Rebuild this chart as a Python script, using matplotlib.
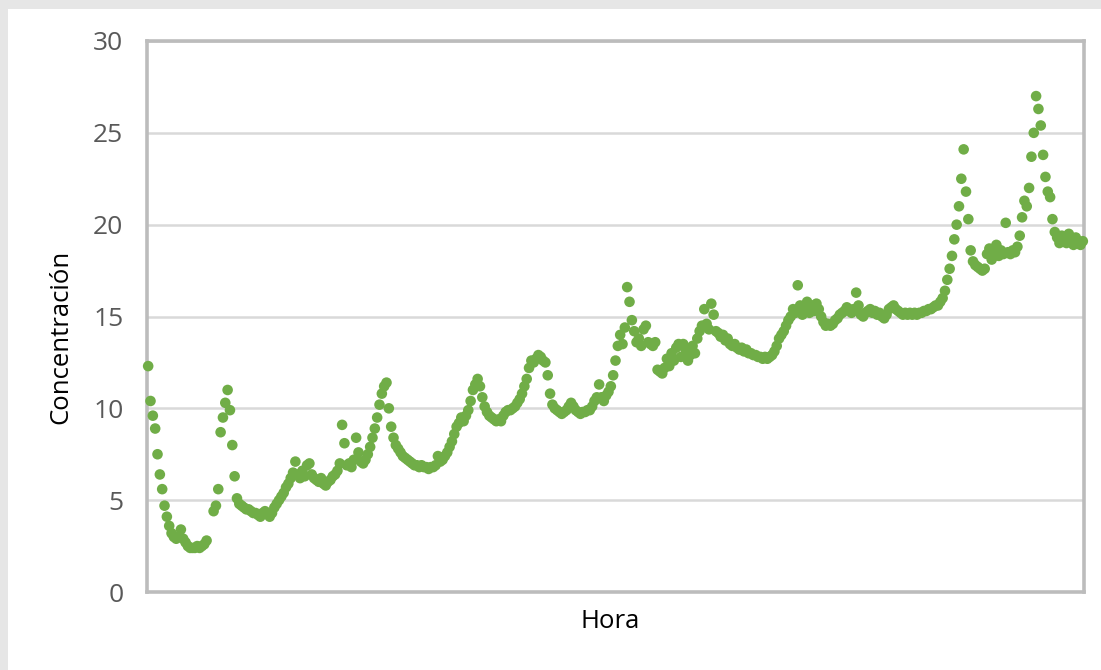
import matplotlib
matplotlib.use("Agg")
import matplotlib.pyplot as plt
import numpy as np

nan = float("nan")

# concentration readings, one per hour
conc = [
    12.3, 10.4, 9.6, 8.9, 7.5, 6.4, 5.6, 4.7, 4.1, 3.6, 3.2, 3.0, 2.9, 3.0, 3.4, 2.9, 2.7, 2.5, 2.4, 2.4,
    2.4, 2.5, 2.4, 2.5, 2.6, 2.8, nan, nan, 4.4, 4.7, 5.6, 8.7, 9.5, 10.3, 11.0, 9.9, 8.0, 6.3, 5.1, 4.8,
    4.7, 4.6, 4.5, 4.5, 4.4, 4.3, 4.3, 4.2, 4.1, 4.3, 4.4, 4.3, 4.1, 4.3, 4.6, 4.8, 5.0, 5.2, 5.4, 5.7,
    5.9, 6.2, 6.5, 7.1, 6.4, 6.2, 6.6, 6.3, 6.9, 7.0, 6.4, 6.2, 6.1, 6.0, 6.2, 5.9, 5.8, 6.0, 6.1, 6.3,
    6.4, 6.6, 7.0, 9.1, 8.1, 6.9, 7.0, 6.8, 7.2, 8.4, 7.6, 7.1, 7.0, 7.2, 7.5, 7.9, 8.4, 8.9, 9.5, 10.2,
    10.8, 11.2, 11.4, 10.0, 9.0, 8.4, 8.0, 7.8, 7.6, 7.4, 7.3, 7.2, 7.1, 7.0, 6.9, 6.9, 6.8, 6.9, 6.8, 6.8,
    6.7, 6.8, 6.8, 6.9, 7.4, 7.1, 7.2, 7.4, 7.6, 7.9, 8.2, 8.6, 9.0, 9.2, 9.5, 9.3, 9.6, 9.9, 10.4, 11.0,
    11.3, 11.6, 11.2, 10.6, 10.1, 9.8, 9.6, 9.5, 9.4, 9.3, 9.4, 9.3, 9.6, 9.8, 9.9, 9.9, 10.0, 10.1, 10.3, 10.5,
    10.8, 11.2, 11.6, 12.2, 12.6, 12.5, 12.7, 12.9, 12.8, 12.6, 12.5, 11.8, 10.8, 10.2, 10.0, 9.9, 9.8, 9.7, 9.8, 9.9,
    10.1, 10.3, 10.1, 9.9, 9.8, 9.7, 9.8, 9.8, 9.9, 9.9, 10.1, 10.4, 10.6, 11.3, 10.6, 10.4, 10.7, 10.9, 11.2, 11.8,
    12.6, 13.4, 14.0, 13.5, 14.4, 16.6, 15.8, 14.8, 14.2, 13.6, 13.8, 13.4, 14.3, 14.5, 13.6, 13.5, 13.4, 13.6, 12.1, 12.0,
    11.9, 12.2, 12.7, 12.3, 13.0, 12.6, 13.3, 13.5, 12.8, 13.5, 13.2, 12.6, 12.9, 13.4, 13.0, 13.8, 14.2, 14.5, 15.4, 14.6,
    14.3, 15.7, 15.1, 14.2, 14.1, 13.9, 14.0, 13.7, 13.8, 13.5, 13.4, 13.5, 13.3, 13.2, 13.3, 13.1, 13.2, 13.0, 13.0, 12.9,
    12.9, 12.8, 12.8, 12.7, 12.8, 12.7, 12.8, 12.9, 13.1, 13.4, 13.8, 14.0, 14.2, 14.5, 14.8, 15.0, 15.4, 15.2, 16.7, 15.6,
    15.1, 15.5, 15.8, 15.2, 15.6, 15.3, 15.7, 15.4, 15.0, 14.7, 14.5, 14.6, 14.5, 14.6, 14.8, 14.9, 15.1, 15.2, 15.3, 15.5,
    15.4, 15.2, 15.4, 16.3, 15.6, 15.1, 15.0, 15.2, 15.3, 15.4, 15.2, 15.3, 15.1, 15.2, 15.0, 14.9, 15.1, 15.4, 15.5, 15.6,
    15.4, 15.3, 15.2, 15.1, 15.2, 15.1, 15.2, 15.1, 15.2, 15.1, 15.2, 15.2, 15.3, 15.3, 15.4, 15.4, 15.5, 15.6, 15.6, 15.8,
    16.0, 16.4, 17.0, 17.6, 18.3, 19.2, 20.0, 21.0, 22.5, 24.1, 21.8, 20.3, 18.6, 18.0, 17.8, 17.7, 17.6, 17.5, 17.6, 18.4,
    18.7, 18.1, 18.6, 18.9, 18.3, 18.6, 18.4, 20.1, 18.5, 18.4, 18.6, 18.5, 18.8, 19.4, 20.4, 21.3, 21.0, 22.0, 23.7, 25.0,
    27.0, 26.3, 25.4, 23.8, 22.6, 21.8, 21.5, 20.3, 19.6, 19.3, 19.0, 19.4, 19.2, 19.0, 19.5, 19.1, 18.9, 19.3, 19.0, 18.9,
    19.1,
]
hora = np.arange(len(conc))
yticks = [0, 5, 10, 15, 20, 25, 30]

plt.rcParams["font.family"] = ["Open Sans", "DejaVu Sans"]

fig = plt.figure(figsize=(11.01, 6.70), dpi=100)
# light gray window edge at top and left
fig.patches.append(plt.Rectangle((0, 0), 1, 1, transform=fig.transFigure,
                                 facecolor="#e6e6e6", edgecolor="none", zorder=-10))
fig.patches.append(plt.Rectangle((8 / 1101, 0), 1, 1 - 9 / 670, transform=fig.transFigure,
                                 facecolor="white", edgecolor="none", zorder=-9))

ax = fig.add_axes([147 / 1101, 1 - 592 / 670, (1084 - 147) / 1101, (592 - 41) / 670])
ax.scatter(hora, conc, s=58, color="#70ad47", edgecolors="none", zorder=3, clip_on=False)

ax.set_xlim(-0.5, len(conc) - 0.5)
ax.set_ylim(0, 30)
ax.set_yticks(yticks)
ax.set_xticks([])
ax.grid(axis="y", color="#d9d9d9", linewidth=1.8)
ax.set_axisbelow(True)
for sp in ax.spines.values():
    sp.set_color("#bcbcbc")
    sp.set_linewidth(2.6)
ax.tick_params(axis="y", length=0, pad=17, labelsize=19, labelcolor="#595959")

ax.set_ylabel("Concentración", fontsize=18.5, color="black")
ax.yaxis.set_label_coords(-0.079, 0.463)
ax.set_xlabel("Hora", fontsize=18.5, color="black")
ax.xaxis.set_label_coords(0.494, -0.03)

plt.savefig("out.png", dpi=100)
